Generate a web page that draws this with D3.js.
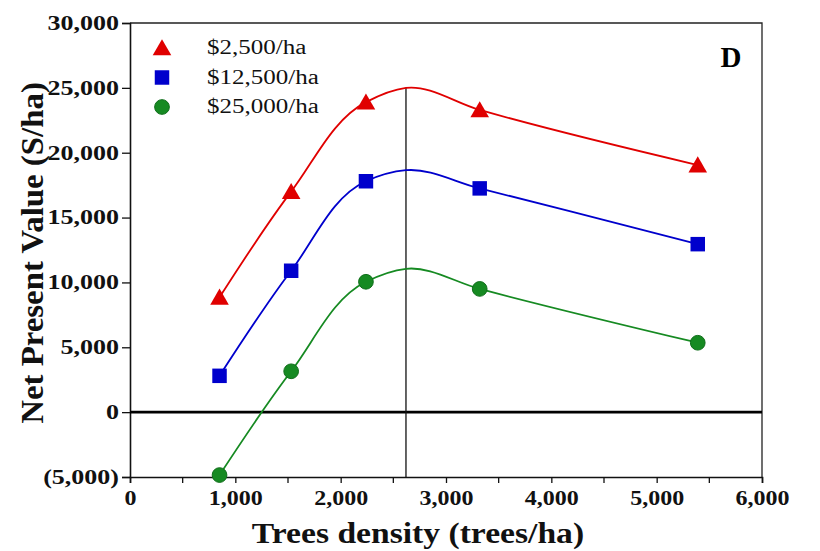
<!DOCTYPE html>
<html>
<head>
<meta charset="utf-8">
<script src="https://cdn.jsdelivr.net/npm/d3@7"></script>
<style>
  body { margin: 0; background: #fff; }
  svg text { font-family: "Liberation Serif", "Times New Roman", Times, serif; }
</style>
</head>
<body>
<div id="chart"></div>
<script>

// tree densities (trees/ha)
var density = [850, 1530, 2240, 3320, 5390];

// NPV for each establishment cost
var npv2500  = [8850, 17000, 23900, 23300, 19050];
var npv12500 = [2800, 10900, 17800, 17250, 12950];
var npv25000 = [-4850, 3150, 10050, 9500, 5350];

var optDensity = 2620;
var optNpv = [25000, 18650, 11050];

var seriesNames = ["$2,500/ha", "$12,500/ha", "$25,000/ha"];
var colors = ["#e00000", "#0000cc", "#168a22"];
var shapes = [d3.symbolTriangle, d3.symbolSquare, d3.symbolCircle];

var xTicks = [0, 1000, 2000, 3000, 4000, 5000, 6000];
var xMinor = [500, 1500, 2500, 3500, 4500, 5500];
var yTicks = [-5000, 0, 5000, 10000, 15000, 20000, 25000, 30000];

var width = 820, height = 551;
var margin = {top: 23, right: 58, bottom: 74, left: 130};

var svg = d3.select("#chart").append("svg")
  .attr("width", width)
  .attr("height", height);

var x = d3.scaleLinear().domain([0, 6000]).range([margin.left, width - margin.right]);
var y = d3.scaleLinear().domain([-5000, 30000]).range([height - margin.bottom, margin.top]);

// stretch text horizontally, the reference is a bit wide
function stretch(sel, f) {
  sel.each(function() {
    var w = this.getComputedTextLength();
    d3.select(this).attr("textLength", w * f).attr("lengthAdjust", "spacingAndGlyphs");
  });
}

var fmt = function(v) {
  return v < 0 ? "(" + d3.format(",")(-v) + ")" : d3.format(",")(v);
};

// frame top + right
svg.append("path")
  .attr("d", "M" + x(0) + "," + y(30000) + "H" + x(6000) + "V" + y(-5000))
  .attr("fill", "none").attr("stroke", "#222").attr("stroke-width", 1.3);

// y axis
var yAxis = svg.append("g")
  .attr("transform", "translate(" + x(0) + ",0)")
  .call(d3.axisLeft(y).tickValues(yTicks).tickSize(8).tickPadding(3).tickFormat(fmt));
yAxis.select(".domain").attr("stroke", "#111").attr("stroke-width", 1.6);
yAxis.selectAll(".tick line").attr("stroke", "#111").attr("stroke-width", 1.3);
yAxis.selectAll("text")
  .attr("font-size", 20).attr("font-weight", "bold").attr("fill", "#111")
  .call(stretch, 1.3);

// x axis
var xAxis = svg.append("g")
  .attr("transform", "translate(0," + y(-5000) + ")")
  .call(d3.axisBottom(x).tickValues(xTicks).tickSize(6).tickPadding(8).tickFormat(d3.format(",")));
xAxis.select(".domain").attr("stroke", "#111").attr("stroke-width", 1.6);
xAxis.selectAll(".tick line").attr("stroke", "#111").attr("stroke-width", 1.3);
xAxis.selectAll("text")
  .attr("font-size", 20).attr("font-weight", "bold").attr("fill", "#111")
  .call(stretch, 1.2);

svg.append("g").selectAll("line")
  .data(xMinor)
  .enter().append("line")
  .attr("x1", function(d) { return x(d); })
  .attr("x2", function(d) { return x(d); })
  .attr("y1", y(-5000))
  .attr("y2", y(-5000) + 6)
  .attr("stroke", "#111").attr("stroke-width", 1.3);

// zero line
svg.append("line")
  .attr("x1", x(0)).attr("x2", x(6000))
  .attr("y1", y(0)).attr("y2", y(0))
  .attr("stroke", "#000").attr("stroke-width", 2.6);

// optimum line
svg.append("line")
  .attr("x1", x(optDensity)).attr("x2", x(optDensity))
  .attr("y1", y(optNpv[0])).attr("y2", y(-5000))
  .attr("stroke", "#111").attr("stroke-width", 1.3);

var allSeries = [npv2500, npv12500, npv25000];

var line = d3.line()
  .x(function(d) { return x(d[0]); })
  .y(function(d) { return y(d[1]); })
  .curve(d3.curveCatmullRom.alpha(1));

allSeries.forEach(function(vals, i) {
  var pts = density.map(function(dv, j) { return [dv, vals[j]]; });
  var withPeak = pts.concat([[optDensity, optNpv[i]]]).sort(function(a, b) { return a[0] - b[0]; });

  svg.append("path")
    .datum(withPeak)
    .attr("d", line)
    .attr("fill", "none")
    .attr("stroke", colors[i])
    .attr("stroke-width", 1.8);

  var size = i == 0 ? 150 : (i == 1 ? 210 : 170);
  svg.append("g").selectAll("path")
    .data(pts)
    .enter().append("path")
    .attr("transform", function(d) { return "translate(" + x(d[0]) + "," + (y(d[1]) + (i == 0 ? 2 : 0)) + ")"; })
    .attr("d", d3.symbol().type(shapes[i]).size(size))
    .attr("fill", colors[i])
    .attr("stroke", i == 2 ? "#0f6e1a" : "none")
    .attr("stroke-width", 1);
});

// legend
var legend = svg.append("g");
seriesNames.forEach(function(name, i) {
  var ly = 48 + i * 29.5;
  legend.append("path")
    .attr("transform", "translate(162," + (ly + (i == 0 ? 2 : 0)) + ")")
    .attr("d", d3.symbol().type(shapes[i]).size(i == 0 ? 150 : (i == 1 ? 210 : 170)))
    .attr("fill", colors[i])
    .attr("stroke", i == 2 ? "#0f6e1a" : "none");
  legend.append("text")
    .attr("x", 207)
    .attr("y", ly + 6)
    .attr("font-size", 20)
    .attr("fill", "#111")
    .text(name)
    .call(stretch, 1.25);
});

// panel letter
svg.append("text")
  .attr("x", 731).attr("y", 67)
  .attr("text-anchor", "middle")
  .attr("font-size", 29).attr("font-weight", "bold")
  .text("D");

// axis titles
svg.append("text")
  .attr("x", 418).attr("y", 543)
  .attr("text-anchor", "middle")
  .attr("font-size", 30).attr("font-weight", "bold")
  .attr("fill", "#111")
  .text("Trees density (trees/ha)")
  .call(stretch, 1.12);

svg.append("text")
  .attr("transform", "translate(43,253) rotate(-90)")
  .attr("text-anchor", "middle")
  .attr("font-size", 31).attr("font-weight", "bold")
  .attr("fill", "#111")
  .text("Net Present Value (S/ha)")
  .call(stretch, 1.06);

</script>
</body>
</html>
